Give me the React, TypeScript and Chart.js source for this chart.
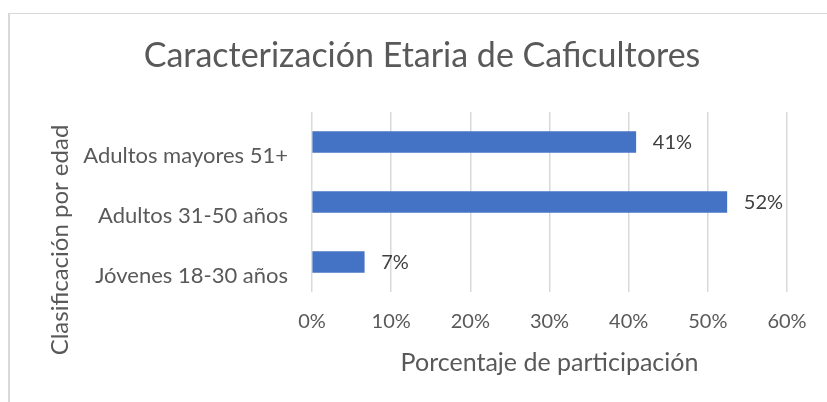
import React, { useEffect, useRef } from "react";
import { Chart, registerables } from "chart.js";

Chart.register(...registerables);

const chartTitle = "Caracterización Etaria de Caficultores";
const categories = ["Adultos mayores 51+", "Adultos 31-50 años", "Jóvenes 18-30 años"];
const participation = [40.9, 52.4, 6.6];
const xAxisTitle = "Porcentaje de participación";
const yAxisTitle = "Clasificación por edad";
const xMax = 60;
const xStep = 10;

const FONT = "Lato";
const TEXT = "#595959";
const LABEL = "#404040";

const dataLabelPlugin = {
  id: "dataLabels",
  afterDatasetsDraw(chart: any) {
    const ctx = chart.ctx;
    const meta = chart.getDatasetMeta(0);
    ctx.save();
    ctx.font = `20px ${FONT}`;
    ctx.fillStyle = LABEL;
    ctx.textAlign = "left";
    ctx.textBaseline = "middle";
    meta.data.forEach((bar: any, i: number) => {
      const v = chart.data.datasets[0].data[i];
      ctx.fillText(Math.round(v) + "%", bar.x + 17, bar.y + 1);
    });
    ctx.restore();
  },
};

const titlesPlugin = {
  id: "titles",
  afterDraw(chart: any) {
    const ctx = chart.ctx;
    ctx.save();
    ctx.fillStyle = TEXT;
    ctx.textAlign = "center";
    ctx.textBaseline = "middle";
    ctx.font = `34px ${FONT}`;
    ctx.fillText(chartTitle, 422, 56.5);
    ctx.translate(60, 240);
    ctx.rotate(-Math.PI / 2);
    ctx.font = `24px ${FONT}`;
    ctx.fillText(yAxisTitle, 0, 0);
    ctx.restore();
  },
};

export default function App() {
  const ref = useRef<HTMLCanvasElement>(null);
  useEffect(() => {
    if (!ref.current) return;
    const chart = new Chart(ref.current, {
      type: "bar",
      data: {
        labels: categories,
        datasets: [
          {
            data: participation,
            backgroundColor: "#4472C4",
            barThickness: 21,
          },
        ],
      },
      options: {
        indexAxis: "y",
        responsive: false,
        animation: false,
        layout: { padding: { left: 0, right: 40, top: 112, bottom: 0 } },
        plugins: {
          legend: { display: false },
          tooltip: { enabled: false },
          title: { display: false },
        },
        scales: {
          x: {
            min: 0,
            max: xMax,
            ticks: {
              stepSize: xStep,
              callback: (v: any) => v + "%",
              color: TEXT,
              font: { family: FONT, size: 20 },
              padding: 18,
              maxRotation: 0,
            },
            grid: { color: "#D9D9D9", lineWidth: 1.5, drawTicks: false },
            border: { display: false },
            title: {
              display: true,
              text: xAxisTitle,
              color: TEXT,
              font: { family: FONT, size: 25 },
              padding: { top: 10, bottom: 24 },
            },
            afterFit: (scale: any) => {
              scale.height = 110;
            },
          },
          y: {
            ticks: {
              color: TEXT,
              font: { family: FONT, size: 22 },
              padding: 24,
              labelOffset: 14,
            },
            grid: { display: false, drawTicks: false },
            border: { display: false },
            afterFit: (scale: any) => {
              scale.width = 312;
            },
          },
        },
      },
      plugins: [dataLabelPlugin, titlesPlugin],
    });
    return () => chart.destroy();
  }, []);

  return (
    <div style={{ position: "absolute", left: 0, top: 0, width: 827, height: 402, overflow: "hidden", background: "#fff" }}>
      <div
        style={{
          position: "absolute",
          left: 8,
          top: 13,
          width: 830,
          height: 400,
          borderLeft: "2px solid #D9D9D9",
          borderTop: "1px solid #D9D9D9",
        }}
      />
      <canvas ref={ref} width={827} height={402} style={{ position: "absolute", left: 0, top: 0 }} />
    </div>
  );
}
